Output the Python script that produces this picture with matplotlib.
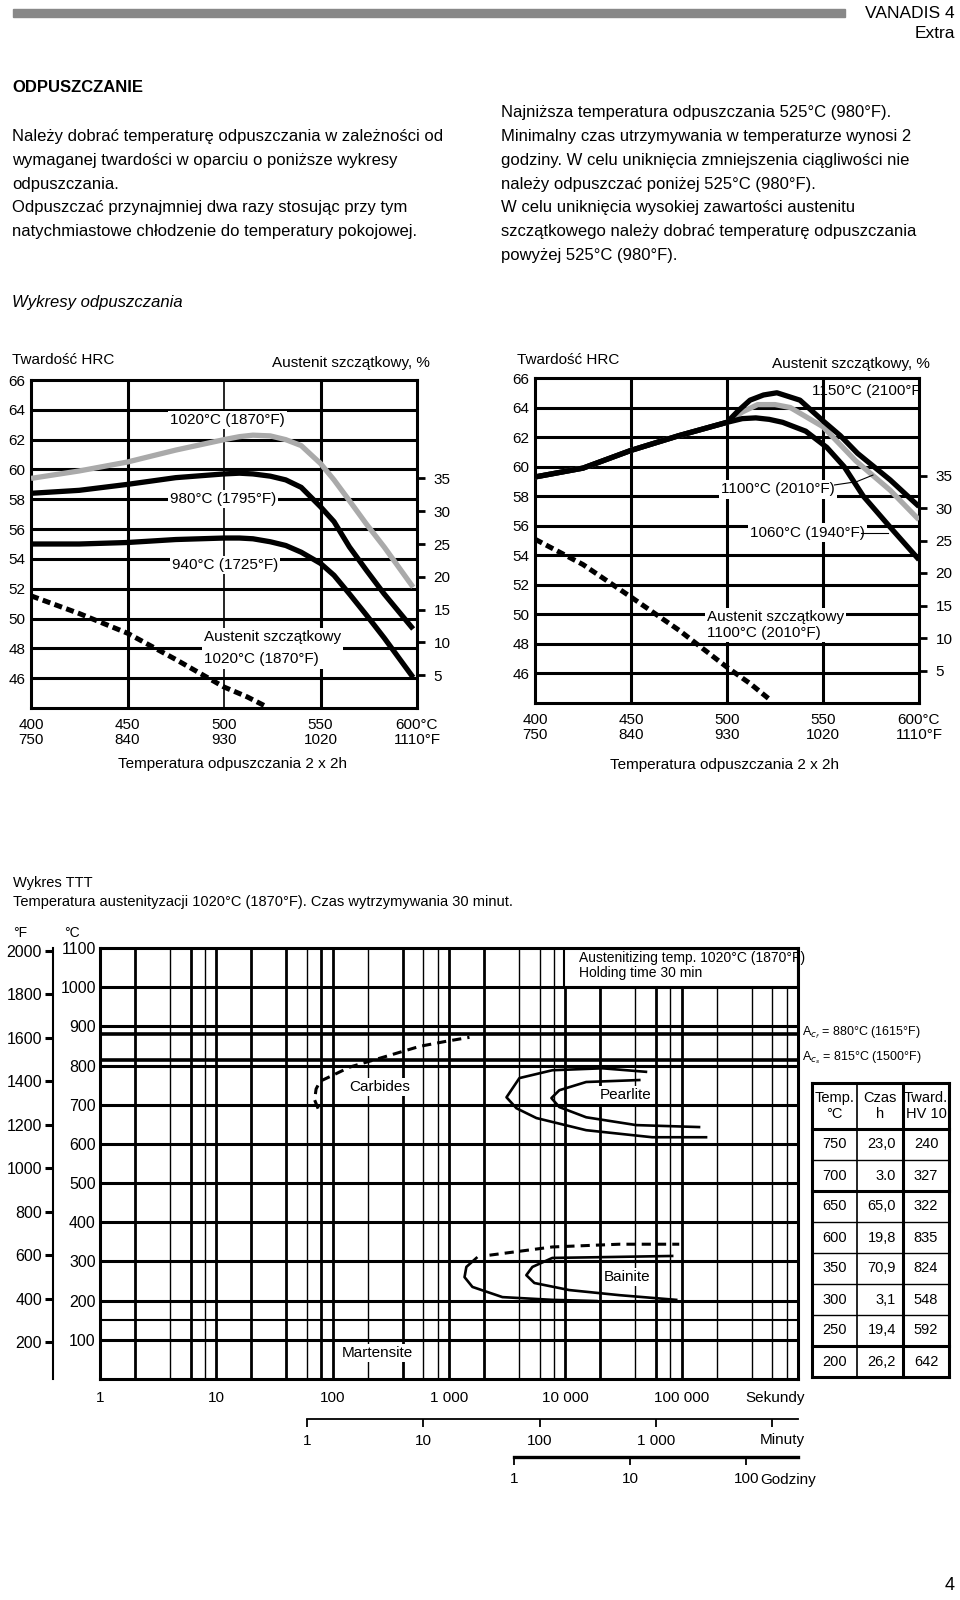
import matplotlib
matplotlib.use("Agg")
import matplotlib.pyplot as plt
from matplotlib.patches import Rectangle
from matplotlib.ticker import NullLocator

W, H = 960, 1600
plt.rcParams['font.family'] = ['Liberation Sans', 'DejaVu Sans']

# --- tempering charts (HRC vs tempering temperature) ---
hrc_ticks = [46, 48, 50, 52, 54, 56, 58, 60, 62, 64, 66]
temp_c = [400, 450, 500, 550, 600]
temp_f = [750, 840, 930, 1020, 1110]
ra_ticks = [5, 10, 15, 20, 25, 30, 35]

# left chart: 1020 / 980 / 940 C austenitizing
temp_l = [400, 425, 450, 475, 500, 508, 515, 524, 532, 540, 550, 557, 565, 574, 583, 598]
hrc_1020 = [59.4, 59.9, 60.5, 61.3, 62.0, 62.2, 62.3, 62.25, 62.0, 61.6, 60.4, 59.3, 57.9, 56.3, 54.8, 52.1]
hrc_980 = [58.4, 58.6, 59.0, 59.45, 59.7, 59.75, 59.7, 59.55, 59.3, 58.8, 57.5, 56.5, 54.8, 53.2, 51.65, 49.3]
hrc_940 = [55.0, 55.0, 55.1, 55.3, 55.4, 55.4, 55.35, 55.15, 54.9, 54.45, 53.7, 52.9, 51.65, 50.2, 48.7, 46.05]
ra_temp_l = [400, 425, 450, 475, 500, 512, 522]
ra_1020 = [17.1, 14.4, 11.4, 7.4, 3.2, 1.7, 0.2]

# right chart: 1150 / 1100 / 1060 C austenitizing
temp_1150 = [400, 425, 450, 475, 500, 506, 512, 519, 526, 538, 550, 559, 568, 585, 600]
hrc_1150 = [59.3, 59.9, 61.1, 62.1, 63.0, 63.8, 64.5, 64.85, 65.0, 64.5, 63.1, 62.1, 60.9, 59.1, 57.3]
temp_1100 = [400, 425, 450, 475, 500, 508, 516, 525, 533, 550, 567, 585, 600]
hrc_1100 = [59.3, 59.9, 61.1, 62.1, 63.0, 63.7, 64.2, 64.2, 64.0, 62.7, 60.4, 58.4, 56.4]
temp_1060 = [400, 425, 450, 475, 500, 508, 515, 522, 529, 541, 552, 561, 571, 585, 600]
hrc_1060 = [59.3, 59.9, 61.1, 62.1, 63.0, 63.25, 63.3, 63.2, 63.0, 62.4, 61.3, 60.0, 58.0, 55.9, 53.7]
ra_temp_r = [400, 425, 450, 475, 500, 512, 522]
ra_1100 = [25.2, 21.3, 16.3, 11.2, 5.5, 3.0, 0.6]

# --- TTT diagram ---
ttt_c_ticks = list(range(100, 1200, 100))
ttt_f_ticks = list(range(200, 2200, 200))
sec_ticks = [1, 10, 100, 1000, 10000, 100000]
sec_labels = ["1", "10", "100", "1 000", "10 000", "100 000"]
min_ticks = [1, 10, 100, 1000, 10000]
min_labels = ["1", "10", "100", "1 000", ""]
hour_ticks = [1, 10, 100]
hour_labels = ["1", "10", "100"]
ac1_temp = 880
acs_temp = 815
ms_temp = 150

carb_t = [75, 70, 72, 78, 100, 140, 270, 560, 950, 1500]
carb_T = [690, 712, 740, 760, 775, 796, 821, 849, 862, 872]
pearl_out_t = [49300, 20800, 7730, 4030, 3120, 3800, 5640, 15100, 55800, 162000]
pearl_out_T = [784, 793, 788, 768, 719, 691, 666, 635, 617, 617]
pearl_in_t = [43200, 15100, 8880, 7590, 8880, 15100, 40700, 141000]
pearl_in_T = [763, 758, 737, 717, 694, 668, 648, 643]
bain_dash_t = [2230, 7730, 29100, 95300]
bain_dash_T = [316, 337, 344, 344]
bain_out_t = [1720, 1410, 1360, 1590, 2880, 7730, 18500]
bain_out_T = [309, 286, 260, 235, 209, 202, 199]
bain_in_t = [82800, 20800, 7730, 5210, 4620, 5420, 10800, 29100, 89700]
bain_in_T = [314, 311, 309, 286, 265, 245, 227, 214, 202]

# table next to the TTT diagram
tab_temp = [750, 700, 650, 600, 350, 300, 250, 200]
tab_czas = ["23,0", "3.0", "65,0", "19,8", "70,9", "3,1", "19,4", "26,2"]
tab_hv = [240, 327, 322, 835, 824, 548, 592, 642]

fig = plt.figure(figsize=(W / 100, H / 100), dpi=100)


def px_axes(x0, y0, x1, y1):
    return fig.add_axes([x0 / W, 1 - y1 / H, (x1 - x0) / W, (y1 - y0) / H])


def ftext(x, y, s, **kw):
    kw.setdefault('va', 'center')
    fig.text(x / W, 1 - y / H, s, **kw)


# header
fig.patches.append(Rectangle((13 / W, 1 - 17 / H), 832 / W, 8 / H,
                             transform=fig.transFigure, color='#888888'))
ftext(955, 13, "VANADIS 4", ha='right', fontsize=12.5)
ftext(955, 34, "Extra", ha='right', fontsize=12.5)

ftext(12, 87, "ODPUSZCZANIE", fontsize=12, fontweight='bold')
left_par = ["Należy dobrać temperaturę odpuszczania w zależności od",
            "wymaganej twardości w oparciu o poniższe wykresy",
            "odpuszczania.",
            "Odpuszczać przynajmniej dwa razy stosując przy tym",
            "natychmiastowe chłodzenie do temperatury pokojowej."]
for i, line in enumerate(left_par):
    ftext(12, 137 + i * 23.6, line, fontsize=12)
right_par = ["Najniższa temperatura odpuszczania 525°C (980°F).",
             "Minimalny czas utrzymywania w temperaturze wynosi 2",
             "godziny. W celu uniknięcia zmniejszenia ciągliwości nie",
             "należy odpuszczać poniżej 525°C (980°F).",
             "W celu uniknięcia wysokiej zawartości austenitu",
             "szczątkowego należy dobrać temperaturę odpuszczania",
             "powyżej 525°C (980°F)."]
for i, line in enumerate(right_par):
    ftext(501, 113 + i * 23.7, line, fontsize=12)
ftext(12, 303, "Wykresy odpuszczania", fontsize=12, style='italic')

box = dict(facecolor='white', edgecolor='none', pad=1.5)


def hrc_chart(rect, mid_lw):
    ax = px_axes(*rect)
    ax.set_xlim(400, 600)
    ax.set_ylim(44, 66)
    for v in hrc_ticks[:-1]:
        ax.axhline(v, color='k', lw=2.2, zorder=1)
    for t, lw in zip(temp_c[1:-1], [2.2, mid_lw, 2.2]):
        ax.axvline(t, color='k', lw=lw, zorder=1)
    for s in ax.spines.values():
        s.set_linewidth(2.2)
    ax.set_yticks(hrc_ticks)
    ax.set_yticklabels([str(v) for v in hrc_ticks])
    ax.tick_params(axis='y', length=0, pad=4, labelsize=11)
    ax.set_xticks(temp_c)
    labs = [f"{c}\n{f}" for c, f in zip(temp_c, temp_f)]
    labs[-1] = f"{temp_c[-1]}°C\n{temp_f[-1]}°F"
    ax.set_xticklabels(labs, linespacing=1.15)
    ax.tick_params(axis='x', length=0, pad=7, labelsize=11)
    ra = ax.twinx()
    ra.set_ylim(0, 50)
    ra.set_yticks(ra_ticks)
    ra.tick_params(axis='y', length=6, width=2, pad=6, labelsize=11)
    for s in ra.spines.values():
        s.set_visible(False)
    return ax, ra


curve = dict(lw=3.8, solid_joinstyle='round', solid_capstyle='butt', zorder=3)
dash = dict(lw=3.6, color='k', dashes=(1.6, 0.9), zorder=3)

# left tempering chart
ax, ra = hrc_chart((31, 380, 417, 708), 1.2)
ax.plot(temp_l, hrc_1020, color='#aaaaaa', **curve)
ax.plot(temp_l, hrc_980, color='k', **curve)
ax.plot(temp_l, hrc_940, color='k', **curve)
ra.plot(ra_temp_l, ra_1020, **dash)
ax.text(502, 63.3, "1020°C (1870°F)", ha='center', va='center', fontsize=11, bbox=box, zorder=4)
ax.text(499.5, 58.0, "980°C (1795°F)", ha='center', va='center', fontsize=11, bbox=box, zorder=4)
ax.text(500.5, 53.6, "940°C (1725°F)", ha='center', va='center', fontsize=11, bbox=box, zorder=4)
ax.text(489.7, 48.0, "Austenit szczątkowy\n1020°C (1870°F)", ha='left', va='center',
        fontsize=11, linespacing=1.75, bbox=box, zorder=4)
ftext(12, 360, "Twardość HRC", fontsize=11)
ftext(430, 363, "Austenit szczątkowy, %", ha='right', fontsize=11)
ftext(233, 764, "Temperatura odpuszczania 2 x 2h", ha='center', fontsize=11)

# right tempering chart
ax, ra = hrc_chart((535, 378, 919, 703), 2.2)
ax.plot(temp_1100, hrc_1100, color='#aaaaaa', **curve)
ax.plot(temp_1150, hrc_1150, color='k', **curve)
ax.plot(temp_1060, hrc_1060, color='k', **curve)
ra.plot(ra_temp_r, ra_1100, **dash)
ax.text(544.5, 65.15, "1150°C (2100°F)", ha='left', va='center', fontsize=11, clip_on=True, zorder=4)
ax.text(526.7, 58.46, "1100°C (2010°F)", ha='center', va='center', fontsize=11, bbox=box, zorder=4)
ax.plot([556, 567.5, 576], [58.76, 58.98, 59.43], color='k', lw=0.8, zorder=4)
ax.text(541.8, 55.54, "1060°C (1940°F)", ha='center', va='center', fontsize=11, bbox=box, zorder=4)
ax.plot([570, 584], [55.5, 55.5], color='k', lw=0.8, zorder=4)
ax.text(489.4, 49.26, "Austenit szczątkowy\n1100°C (2010°F)", ha='left', va='center',
        fontsize=11, linespacing=1.15, bbox=box, zorder=4)
ftext(517, 360, "Twardość HRC", fontsize=11)
ftext(930, 364, "Austenit szczątkowy, %", ha='right', fontsize=11)
ftext(725, 765, "Temperatura odpuszczania 2 x 2h", ha='center', fontsize=11)

# TTT diagram
ftext(13, 883, "Wykres TTT", fontsize=10.5)
ftext(13, 902, "Temperatura austenityzacji 1020°C (1870°F). Czas wytrzymywania 30 minut.", fontsize=10.5)

ax = px_axes(100, 948, 798, 1379)
ax.set_xscale('log')
ax.set_xlim(1, 1e6)
ax.set_ylim(0, 1100)
thick = {2, 6, 10, 20, 40, 80, 100, 400, 1000, 2000, 10000, 20000, 60000, 100000}
for k in range(6):
    for n in (1, 2, 4, 6, 8):
        v = n * 10 ** k
        if v > 1:
            ax.axvline(v, color='k', lw=2.0 if v in thick else 1.0, zorder=1)
for v in ttt_c_ticks[:-1]:
    ax.axhline(v, color='k', lw=2.2, zorder=1)
ax.axhline(ac1_temp, color='k', lw=2.6, zorder=1)
ax.axhline(acs_temp, color='k', lw=2.6, zorder=1)
ax.axhline(ms_temp, color='k', lw=1.5, zorder=1)
for s in ax.spines.values():
    s.set_linewidth(2.2)
ax.set_yticks(ttt_c_ticks)
ax.set_yticklabels([str(v) for v in ttt_c_ticks])
ax.tick_params(axis='y', length=0, pad=3, labelsize=11.5)
ax.set_xticks(sec_ticks)
ax.set_xticklabels(sec_labels)
ax.xaxis.set_minor_locator(NullLocator())
ax.tick_params(axis='x', length=0, pad=9, labelsize=11)

ax.plot(carb_t, carb_T, color='k', lw=2.2, dashes=(3, 2), zorder=3)
ax.plot(pearl_out_t, pearl_out_T, color='k', lw=1.9, zorder=3)
ax.plot(pearl_in_t, pearl_in_T, color='k', lw=1.9, zorder=3)
ax.plot(bain_dash_t, bain_dash_T, color='k', lw=2.2, dashes=(3, 2), zorder=3)
ax.plot(bain_out_t, bain_out_T, color='k', lw=1.9, zorder=3)
ax.plot(bain_in_t, bain_in_T, color='k', lw=1.9, zorder=3)

ax.text(253, 745, "Carbides", ha='center', va='center', fontsize=11, bbox=box, zorder=4)
ax.text(32700, 724, "Pearlite", ha='center', va='center', fontsize=11, bbox=box, zorder=4)
ax.text(34000, 260, "Bainite", ha='center', va='center', fontsize=11, bbox=box, zorder=4)
ax.text(243, 66, "Martensite", ha='center', va='center', fontsize=11, bbox=box, zorder=4)

ax.add_patch(Rectangle((9800, 1000), 1e6 - 9800, 100, facecolor='white',
                       edgecolor='k', lw=1.5, zorder=2))
ax.text(0.686, 0.977, "Austenitizing temp. 1020°C (1870°F)", transform=ax.transAxes,
        ha='left', va='center', fontsize=10, zorder=4)
ax.text(0.686, 0.942, "Holding time 30 min", transform=ax.transAxes,
        ha='left', va='center', fontsize=10, zorder=4)

fax = ax.secondary_yaxis(-47 / 698, functions=(lambda c: c * 9 / 5 + 32,
                                                 lambda f: (f - 32) * 5 / 9))
fax.set_yticks(ttt_f_ticks)
fax.set_yticklabels([str(v) for v in ttt_f_ticks])
fax.tick_params(length=6, width=2.2, pad=2, labelsize=11.5)
fax.spines['left'].set_linewidth(1.5)
ftext(20, 933, "°F", ha='center', fontsize=10)
ftext(72, 933, "°C", ha='center', fontsize=10)

ftext(802, 1033, "A$_{c_f}$ = 880°C (1615°F)", fontsize=9)
ftext(802, 1058, "A$_{c_s}$ = 815°C (1500°F)", fontsize=9)
ftext(775, 1398, "Sekundy", ha='center', fontsize=11)


def time_axis(y, ticks_s, labels, lw, start):
    a = px_axes(100, y - 10, 798, y)
    a.set_xscale('log')
    a.set_xlim(1, 1e6)
    a.patch.set_visible(False)
    for s in ('top', 'left', 'right'):
        a.spines[s].set_visible(False)
    a.spines['bottom'].set_linewidth(lw)
    a.spines['bottom'].set_bounds(start, 1e6)
    a.set_yticks([])
    a.set_xticks(ticks_s)
    a.set_xticklabels(labels)
    a.xaxis.set_minor_locator(NullLocator())
    a.tick_params(axis='x', length=5.5, width=1.3, pad=5, labelsize=11)
    return a


time_axis(1419, [m * 60 for m in min_ticks], min_labels, 1.3, 60)
ftext(782, 1440, "Minuty", ha='center', fontsize=11)
time_axis(1457, [h * 3600 for h in hour_ticks], hour_labels, 2.4, 3600)
ftext(788, 1480, "Godziny", ha='center', fontsize=11)

# table
tx = px_axes(812, 1083, 949, 1377)
tx.set_xlim(812, 949)
tx.set_ylim(1377, 1083)
tx.axis('off')
cols = [812, 857, 903, 949]
rows = [1083, 1129] + [1129 + 31 * (i + 1) for i in range(len(tab_temp))]
rows[-1] = 1377
for i, yy in enumerate(rows):
    lw = 2.2 if i in (0, 1, 3, 8, len(rows) - 1) else 1.0
    tx.plot([cols[0], cols[-1]], [yy, yy], color='k', lw=lw, clip_on=False)
for j, xx in enumerate(cols):
    lw = 2.2 if j in (0, 2, 3) else 1.2
    tx.plot([xx, xx], [rows[0], rows[-1]], color='k', lw=lw, clip_on=False)
heads = ["Temp.\n°C", "Czas\nh", "Tward.\nHV 10"]
for j, hd in enumerate(heads):
    tx.text((cols[j] + cols[j + 1]) / 2, 1106, hd, ha='center', va='center',
            fontsize=10.5, linespacing=1.1)
for i in range(len(tab_temp)):
    yc = (rows[i + 1] + rows[i + 2]) / 2
    tx.text(834.5, yc, str(tab_temp[i]), ha='center', va='center', fontsize=10.5)
    tx.text(896, yc, tab_czas[i], ha='right', va='center', fontsize=10.5)
    tx.text(926, yc, str(tab_hv[i]), ha='center', va='center', fontsize=10.5)

ftext(955, 1585, "4", ha='right', fontsize=13)

fig.savefig("out.png", dpi=100)
